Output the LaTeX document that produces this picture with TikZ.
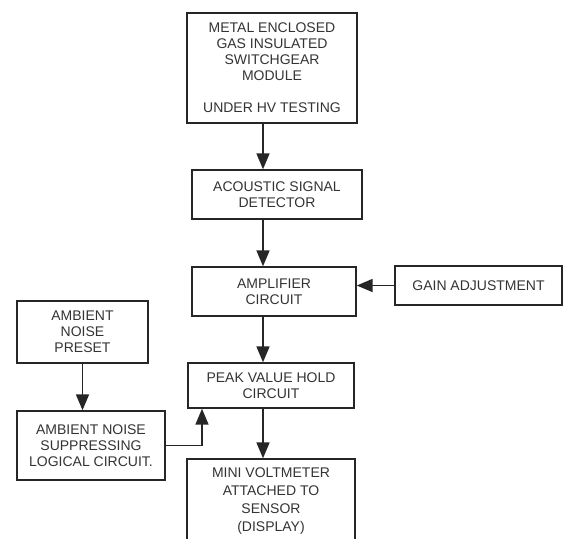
\documentclass[tikz,border=0pt]{standalone}
\usepackage{fontspec}
\setmainfont{Liberation Sans}
\usetikzlibrary{arrows}

\begin{document}
\begin{tikzpicture}[x=0.5pt,y=-0.5pt,->,>=triangle 45,line width=0.8pt,
    draw=black!85,
    block/.style={rectangle,draw=black!85,->,inner sep=0pt,align=center,
      text=black!80,font=\fontsize{7}{8}\selectfont}]

\clip (0,0) rectangle (563,538);

\node[block,minimum width=85pt,minimum height=55pt] (meg) at (272,68)
  {METAL ENCLOSED\\GAS INSULATED\\SWITCHGEAR\\MODULE\\[8pt]UNDER HV TESTING};
\node[block,minimum width=85pt,minimum height=24.5pt] (asd) at (277,194.5)
  {ACOUSTIC SIGNAL\\DETECTOR};
\node[block,minimum width=82pt,minimum height=24.5pt] (amp) at (274,291.5)
  {AMPLIFIER\\CIRCUIT};
\node[block,minimum width=83.5pt,minimum height=19.5pt] (gain) at (478.5,285.5)
  {GAIN ADJUSTMENT};
\node[block,minimum width=65.5pt,minimum height=31pt] (pre) at (82.5,332)
  {AMBIENT\\NOISE\\PRESET};
\node[block,minimum width=74pt,minimum height=34.5pt] (sup) at (91,445.5)
  {AMBIENT NOISE\\SUPPRESSING\\LOGICAL CIRCUIT.};
\node[block,minimum width=83pt,minimum height=22.5pt] (peak) at (271,385.5)
  {PEAK VALUE HOLD\\CIRCUIT};
\node[block,minimum width=84pt,minimum height=42.5pt] (volt) at (271,501.5)
  {MINI VOLTMETER\\[1pt]ATTACHED TO\\[1pt]SENSOR\\[1pt](DISPLAY)};

\coordinate (spine) at (263,0);
\coordinate (tap) at (202,0);

\draw (meg.south -| spine) -- (asd.north -| spine);
\draw (asd.south -| spine) -- (amp.north -| spine);
\draw (amp.south -| spine) -- (peak.north -| spine);
\draw (peak.south -| spine) -- (volt.north -| spine);
\draw (gain.west) -- (gain.west -| amp.east);
\draw (pre.south) -- (pre.south |- sup.north);
\draw (sup.east) -| (peak.south -| tap);

\end{tikzpicture}
\end{document}
